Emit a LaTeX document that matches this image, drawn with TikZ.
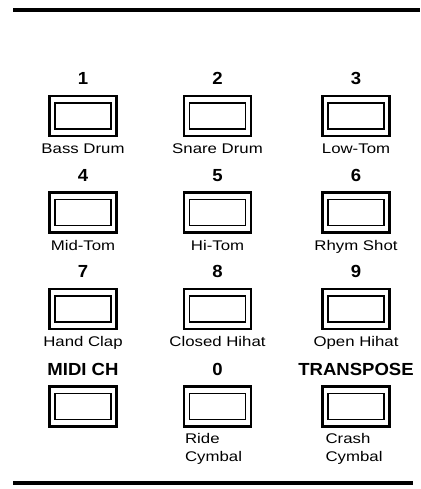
\documentclass[tikz,border=0pt]{standalone}
\usepackage{fontspec}
\setmainfont{Liberation Sans}
\newfontfamily\padfont[FakeStretch=1.2]{Liberation Sans}
\newfontfamily\keyfont[FakeStretch=1.06]{Liberation Sans}
\usetikzlibrary{positioning}

\tikzset{
  padout/.style={draw, line width=2.2pt, minimum width=67pt, minimum height=40pt, inner sep=0pt},
  padin/.style={draw, line width=1.9pt, minimum width=56pt, minimum height=26pt, inner sep=0pt},
  padkey/.style={inner sep=0pt, font=\keyfont\fontsize{17.5}{17.5}\selectfont\bfseries},
  padname/.style={inner sep=0pt, font=\padfont\fontsize{14}{18}\selectfont},
  rule/.style={line width=4pt}
}

\begin{document}
\begin{tikzpicture}[x=1pt, y=-1pt]
  \useasboundingbox (0,0) rectangle (420,489);

  % rules top and bottom
  \draw[rule] (13,10.5) -- (420,10.5);
  \draw[rule] (13,483) -- (413,483);

  % pads 1..9
  \foreach \k/\name/\x/\y in {1/Bass Drum/83/116, 2/Snare Drum/217.5/116, 3/Low-Tom/356/116,
                              4/Mid-Tom/83/212.5, 5/Hi-Tom/217.5/212.5, 6/Rhym Shot/356/212.5,
                              7/Hand Clap/83/309, 8/Closed Hihat/217.5/309, 9/Open Hihat/356/309}
  {
    \node[padout] (pad\k) at (\x,\y) {};
    \node[padin] at (pad\k) {};
    \node[padkey, text height=12.5pt, above=10pt of pad\k] (key\k) {\k};
    \node[padname, text height=10.2pt, text depth=3pt, below=6pt of pad\k] (name\k) {\name};
  }

  % bottom row
  \node[padout] (padmidi) at (83,406.5) {};
  \node[padin] at (padmidi) {};
  \node[padkey, above=10pt of padmidi] (keymidi) {MIDI CH};

  \node[padout] (pad0) at (217.5,406.5) {};
  \node[padin] at (pad0) {};
  \node[padkey, above=10pt of pad0] (key0) {0};
  \node[padname, align=left, below=6pt of pad0.south west, anchor=north west, xshift=2pt] (name0) {Ride\\ Cymbal};

  \node[padout] (padtrans) at (356,406.5) {};
  \node[padin] at (padtrans) {};
  \node[padkey, above=10pt of padtrans] (keytrans) {TRANSPOSE};
  \node[padname, align=left, below=6pt of padtrans.south west, anchor=north west, xshift=4pt] (nametrans) {Crash\\ Cymbal};
\end{tikzpicture}
\end{document}
